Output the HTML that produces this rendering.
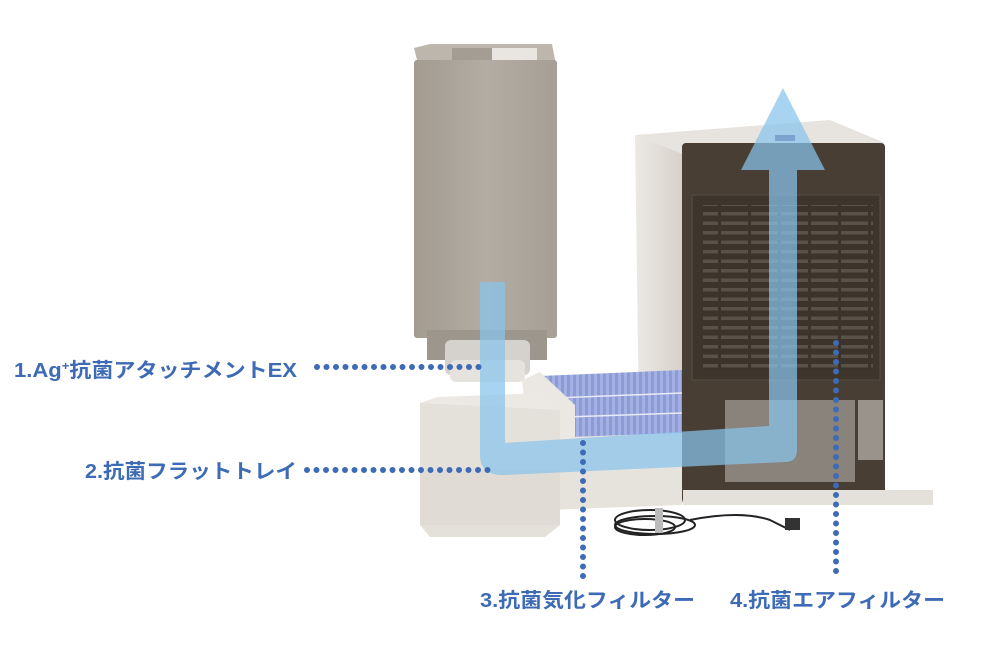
<!DOCTYPE html>
<html><head><meta charset="utf-8">
<style>
html,body{margin:0;padding:0;background:#fff;}
svg{display:block;}
text{font-family:"Liberation Sans","Noto Sans CJK JP",sans-serif;font-weight:bold;fill:#3d6bb5;font-size:20px;}
</style></head>
<body>
<svg width="1000" height="647" viewBox="0 0 1000 647" xmlns="http://www.w3.org/2000/svg">
<defs>
<linearGradient id="tank" x1="0" x2="1" y1="0" y2="0">
<stop offset="0" stop-color="#a39b90"/><stop offset="0.5" stop-color="#b3aca3"/><stop offset="1" stop-color="#a69f95"/>
</linearGradient>
<linearGradient id="side" x1="0" x2="1">
<stop offset="0" stop-color="#ece9e4"/><stop offset="1" stop-color="#d6d1ca"/>
</linearGradient>
<pattern id="grille" width="30" height="9.5" patternUnits="userSpaceOnUse">
<rect width="30" height="9.5" fill="#3c332b"/>
<rect x="1" y="3" width="27" height="3.5" fill="#5a5249"/>
</pattern>
<pattern id="filt" width="6" height="6" patternUnits="userSpaceOnUse">
<rect width="6" height="6" fill="#8c9ad6"/>
<rect x="0" y="0" width="3" height="6" fill="#a3b0e4"/>
</pattern>
</defs>

<!-- main unit -->
<polygon points="635,135 830,120 885,143 683,154" fill="#e7e3de"/>
<rect x="775" y="135" width="20" height="6" fill="#5a5080"/>
<polygon points="635,135 683,154 683,503 640,490" fill="url(#side)"/>
<rect x="682" y="143" width="203" height="360" rx="4" fill="#483e34"/>
<rect x="692" y="195" width="188" height="185" fill="#3e352c" stroke="#574d43"/>
<rect x="703" y="205" width="170" height="165" fill="url(#grille)"/>
<rect x="725" y="400" width="130" height="82" fill="#8a837b"/>
<rect x="858" y="400" width="25" height="60" fill="#9a938b"/>
<rect x="683" y="490" width="250" height="15" fill="#e4e0da"/>

<!-- tray back part -->
<polygon points="530,430 682,425 682,505 545,510" fill="#e6e2dc"/>
<!-- filter -->
<polygon points="540,376 682,370 682,433 568,437" fill="url(#filt)"/>
<line x1="555" y1="398" x2="682" y2="393" stroke="#e8eaf5" stroke-width="1.5"/>
<line x1="565" y1="417" x2="682" y2="413" stroke="#e8eaf5" stroke-width="1.5"/>

<polygon points="522,380 540,372 575,405 575,440 528,440" fill="#ebe7e2"/>

<!-- tank -->
<polygon points="414,48 430,44 552,44 557,70 420,72" fill="#bdb6ad"/>
<rect x="452" y="48" width="40" height="14" fill="#a49d93"/>
<rect x="492" y="48" width="45" height="14" fill="#e9e6e1"/>
<rect x="414" y="60" width="143" height="278" fill="url(#tank)" rx="3"/>
<rect x="427" y="330" width="120" height="30" fill="#9d968c"/>
<rect x="445" y="340" width="85" height="35" rx="6" fill="#d5d1cc"/>
<rect x="450" y="360" width="75" height="22" rx="6" fill="#e6e3df"/>

<!-- tray -->
<polygon points="420,403 438,397 545,393 560,410 560,520 420,525" fill="#ece8e3"/>
<polygon points="420,403 560,410 560,525 545,537 430,537 420,525" fill="#e4e0da"/>
<rect x="420" y="470" width="140" height="55" fill="#e0dcd5"/>

<!-- cord -->
<g fill="none" stroke="#222" stroke-width="2">
<ellipse cx="650" cy="520" rx="35" ry="10"/>
<ellipse cx="655" cy="525" rx="40" ry="9"/>
<ellipse cx="645" cy="527" rx="30" ry="8"/>
<path d="M690 520 Q740 510 770 520 L790 530"/>
</g>
<rect x="655" y="508" width="8" height="25" fill="#bbb"/>
<rect x="785" y="518" width="15" height="12" fill="#333"/>

<!-- blue flow arrow -->
<g fill="#88c4ec" fill-opacity="0.72">
<path d="M480 282 L505 282 L505 443 L769 426 L769 170 L741 170 L783 88 L825 170 L797 170 L797 450 Q797 462 785 462 L505 475 Q480 476 480 455 Z"/>
</g>

<!-- dotted leaders -->
<g stroke="#3d6bb5" stroke-width="6" stroke-linecap="round" stroke-dasharray="0 9.5" fill="none">
<line x1="317" y1="367" x2="485" y2="367"/>
<line x1="307" y1="470" x2="492" y2="470"/>
<line x1="583" y1="443" x2="583" y2="583"/>
<line x1="836" y1="343" x2="836" y2="575"/>
</g>

<!-- labels -->
<text x="14" y="377" textLength="283" lengthAdjust="spacingAndGlyphs">1.Ag<tspan font-size="12" dy="-7">+</tspan><tspan dy="7">抗菌アタッチメントEX</tspan></text>
<text x="85" y="478" textLength="212" lengthAdjust="spacingAndGlyphs">2.抗菌フラットトレイ</text>
<text x="480" y="607" textLength="215" lengthAdjust="spacingAndGlyphs">3.抗菌気化フィルター</text>
<text x="730" y="607" textLength="215" lengthAdjust="spacingAndGlyphs">4.抗菌エアフィルター</text>
</svg>
</body></html>
